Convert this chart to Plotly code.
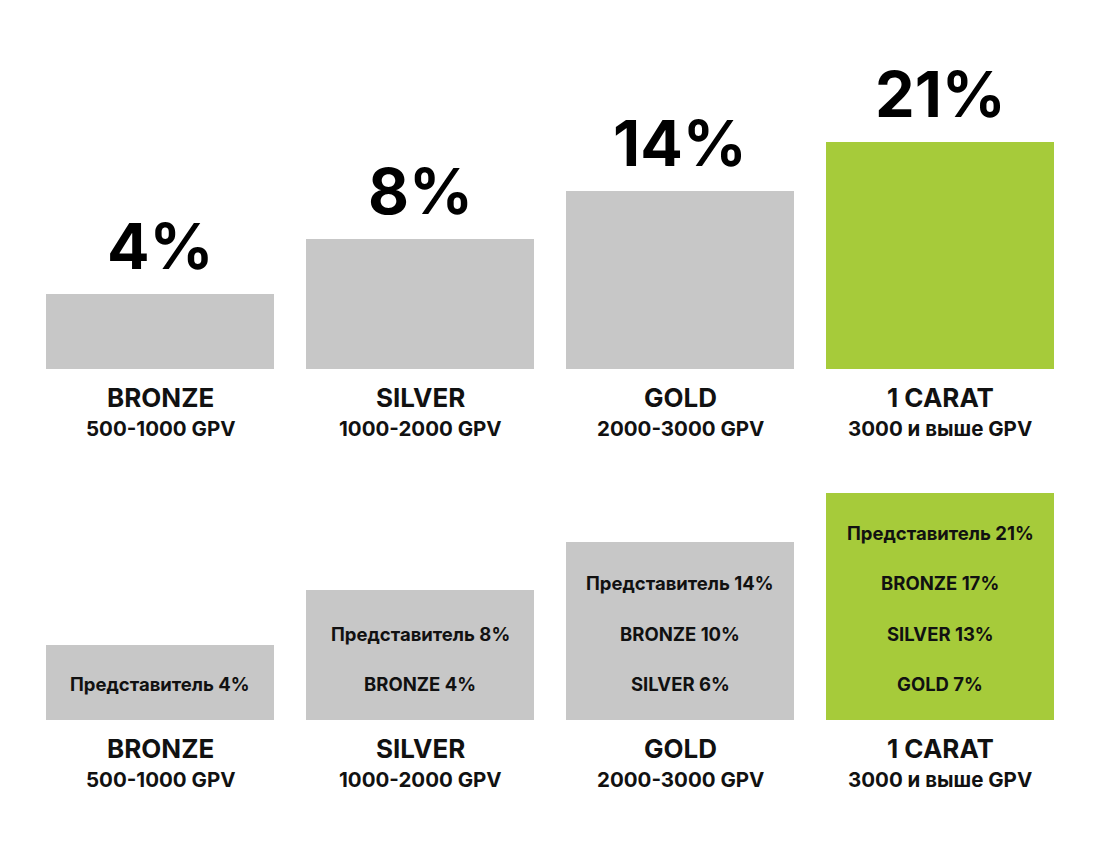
import plotly.graph_objects as go

# ---- data ----
levels = ["BRONZE", "SILVER", "GOLD", "1 CARAT"]
gpv_ranges = ["500-1000 GPV", "1000-2000 GPV", "2000-3000 GPV", "3000 и выше GPV"]
bonus_pct = [4, 8, 14, 21]
bar_heights = [75, 130, 178, 227]          # visual bar heights (display units)
rep_pct = [4, 8, 14, 21]                   # "Представитель" share
bronze_diff = [None, 4, 10, 17]
silver_diff = [None, None, 6, 13]
gold_diff = [None, None, None, 7]

GREY = "#c7c7c7"
GREEN = "#a6cb3a"
FONT = "Inter"
colors = [GREY, GREY, GREY, GREEN]

W, H = 1100, 852
top_base_px, bot_base_px = 369, 720
top_range = top_base_px            # 1 unit = 1 px
bot_top_px = 420
bot_range = bot_base_px - bot_top_px

fig = go.Figure()
xs = list(range(len(levels)))
fig.add_trace(go.Bar(x=xs, y=bar_heights, marker=dict(color=colors, line=dict(width=0)),
                     width=0.877, xaxis="x", yaxis="y", hoverinfo="skip"))
fig.add_trace(go.Bar(x=xs, y=bar_heights, marker=dict(color=colors, line=dict(width=0)),
                     width=0.877, xaxis="x2", yaxis="y2", hoverinfo="skip"))

ann = []
for i, lv in enumerate(levels):
    # top chart: big percentage above bar
    ann.append(dict(x=i, y=bar_heights[i], xref="x", yref="y", text=f"<b>{bonus_pct[i]}%</b>",
                    showarrow=False, yanchor="middle", yshift=48,
                    font=dict(family=FONT, size=63, color="#000")))
    for ax_x, ax_y in (("x", "y"), ("x2", "y2")):
        ann.append(dict(x=i, y=0, xref=ax_x, yref=ax_y, text=f"<b>{lv}</b>", showarrow=False,
                        yanchor="middle", yshift=-28, font=dict(family=FONT, size=26, color="#111")))
        ann.append(dict(x=i, y=0, xref=ax_x, yref=ax_y, text=f"<b>{gpv_ranges[i]}</b>", showarrow=False,
                        yanchor="middle", yshift=-59, font=dict(family=FONT, size=20.5, color="#111")))
    # bottom chart: inner lines from bottom upward
    lines = []
    if gold_diff[i] is not None:
        lines.append(f"GOLD {gold_diff[i]}%")
    if silver_diff[i] is not None:
        lines.append(f"SILVER {silver_diff[i]}%")
    if bronze_diff[i] is not None:
        lines.append(f"BRONZE {bronze_diff[i]}%")
    lines.append(f"Представитель {rep_pct[i]}%")
    for k, t in enumerate(lines):
        ann.append(dict(x=i, y=0, xref="x2", yref="y2", text=f"<b>{t}</b>", showarrow=False,
                        yanchor="middle", yshift=36 + 50.5 * k,
                        font=dict(family=FONT, size=18.5, color="#111")))

xr = [-160 / 260, 3 + 160 / 260]
axis_common = dict(showgrid=False, zeroline=False, showticklabels=False, showline=False, ticks="")
fig.update_layout(
    width=W, height=H, margin=dict(l=0, r=0, t=0, b=0),
    paper_bgcolor="white", plot_bgcolor="white", showlegend=False, bargap=0,
    xaxis=dict(range=xr, domain=[0, 1], anchor="y", **axis_common),
    yaxis=dict(range=[0, top_range], domain=[1 - top_base_px / H, 1], anchor="x", **axis_common),
    xaxis2=dict(range=xr, domain=[0, 1], anchor="y2", **axis_common),
    yaxis2=dict(range=[0, bot_range], domain=[1 - bot_base_px / H, 1 - bot_top_px / H], anchor="x2", **axis_common),
    annotations=ann,
)
fig.write_html("out.html")
